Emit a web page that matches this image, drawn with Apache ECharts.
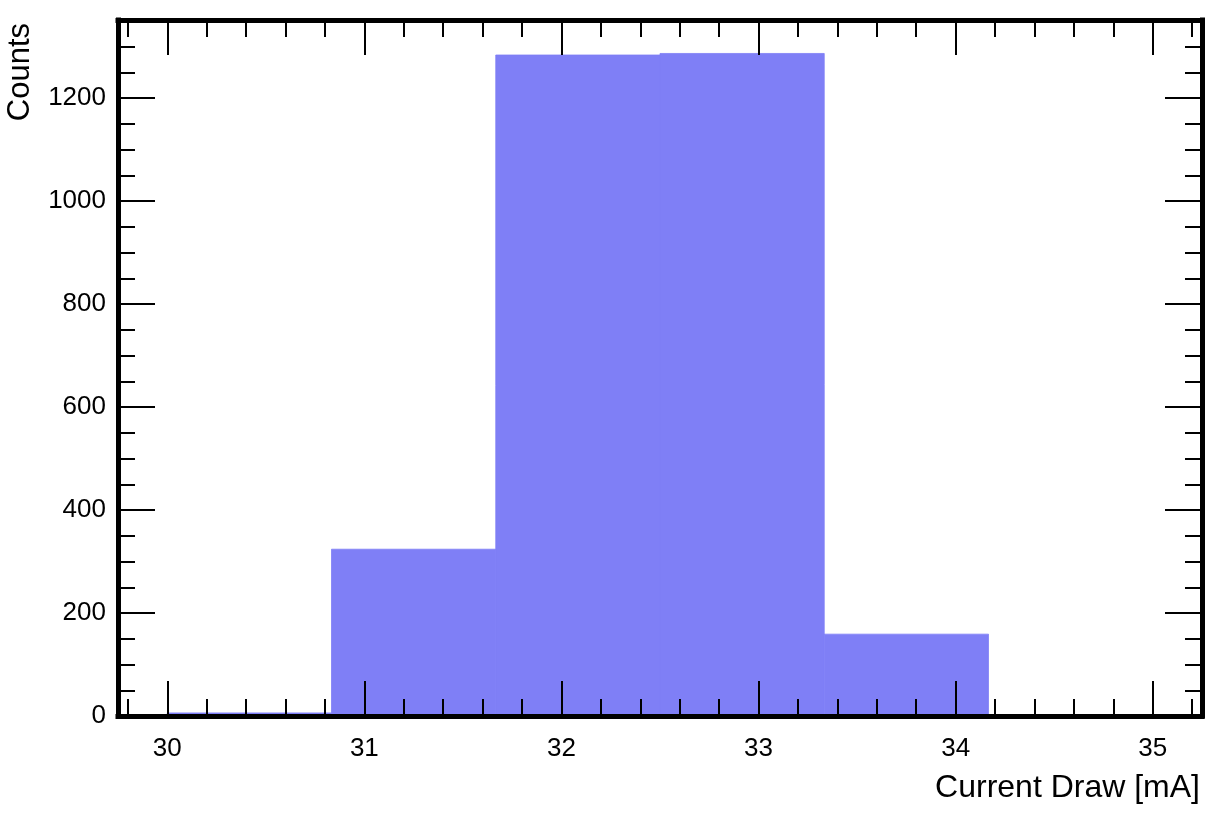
<!DOCTYPE html>
<html>
<head>
<meta charset="utf-8">
<script src="https://cdn.jsdelivr.net/npm/echarts@6/dist/echarts.min.js"></script>
<style>
html,body{margin:0;padding:0;background:#fff;}
#chart{width:1226px;height:814px;}
</style>
</head>
<body>
<div id="chart"></div>
<script>
// Histogram bins (Current Draw [mA]) and counts
const binEdges = [30.0, 30.8333, 31.6667, 32.5, 33.3333, 34.1667, 35.0];
const counts = [6, 324, 1284, 1287, 159, 0];

// Axis ticks / labels
const xMajorTicks = [30, 31, 32, 33, 34, 35];
const xMinorTicks = [29.8, 30.2, 30.4, 30.6, 30.8, 31.2, 31.4, 31.6, 31.8, 32.2, 32.4, 32.6, 32.8,
  33.2, 33.4, 33.6, 33.8, 34.2, 34.4, 34.6, 34.8, 35.2];
const yMajorTicks = [0, 200, 400, 600, 800, 1000, 1200];
const yMinorTicks = [50, 100, 150, 250, 300, 350, 450, 500, 550, 650, 700, 750, 850, 900, 950,
  1050, 1100, 1150, 1250, 1300];

const xRange = [29.75, 35.25];
const yRange = [0, 1352];

const FONT = "'Liberation Sans', Arial, Helvetica, sans-serif";
const barColor = '#7f7ff6';

const histData = counts.map((c, i) => [binEdges[i], binEdges[i + 1], c]);

function plain(v) { return String(v); }

function xAxisDef(position, ticks, len, withLine, withLabel) {
  return {
    type: 'value', position: position, min: xRange[0], max: xRange[1], z: 10,
    splitLine: { show: false },
    axisLine: { show: withLine, onZero: false, lineStyle: { color: '#000', width: 5, cap: 'square' } },
    axisTick: { show: true, inside: true, length: len, customValues: ticks, lineStyle: { color: '#000', width: 2 } },
    axisLabel: { show: withLabel, customValues: ticks, formatter: plain, color: '#000', fontSize: 26, fontFamily: FONT, margin: 20 }
  };
}
function yAxisDef(position, ticks, len, withLine, withLabel) {
  return {
    type: 'value', position: position, min: yRange[0], max: yRange[1], z: 10,
    splitLine: { show: false },
    axisLine: { show: withLine, onZero: false, lineStyle: { color: '#000', width: 5, cap: 'square' } },
    axisTick: { show: true, inside: true, length: len, customValues: ticks, lineStyle: { color: '#000', width: 2 } },
    axisLabel: { show: withLabel, customValues: ticks, formatter: plain, color: '#000', fontSize: 26, fontFamily: FONT, margin: 12 }
  };
}

const xMain = xAxisDef('bottom', xMajorTicks, 35, true, true);
xMain.name = 'Current Draw [mA]';
xMain.nameLocation = 'end';
xMain.nameGap = -2;
xMain.nameTextStyle = { color: '#000', fontSize: 32, fontFamily: FONT, align: 'right', verticalAlign: 'top', padding: [56, 0, 0, 0] };

const yMain = yAxisDef('left', yMajorTicks, 37, true, true);
yMain.name = 'Counts';
yMain.nameLocation = 'end';
yMain.nameRotate = 90;
yMain.nameGap = -3;
yMain.nameTextStyle = { color: '#000', fontSize: 31, fontFamily: FONT, align: 'right', verticalAlign: 'bottom', padding: [0, 0, 82, 0] };

const option = {
  animation: false,
  backgroundColor: '#fff',
  grid: { left: 118, right: 24, top: 20, bottom: 98, containLabel: false },
  xAxis: [
    xMain,
    xAxisDef('bottom', xMinorTicks, 17, false, false),
    xAxisDef('top', xMajorTicks, 35, true, false),
    xAxisDef('top', xMinorTicks, 17, false, false)
  ],
  yAxis: [
    yMain,
    yAxisDef('left', yMinorTicks, 17, false, false),
    yAxisDef('right', yMajorTicks, 37, true, false),
    yAxisDef('right', yMinorTicks, 17, false, false)
  ],
  series: [{
    type: 'custom',
    xAxisIndex: 0,
    yAxisIndex: 0,
    data: histData,
    encode: { x: [0, 1], y: 2 },
    z: 2,
    renderItem: function (params, api) {
      const p0 = api.coord([api.value(0), 0]);
      const p1 = api.coord([api.value(1), api.value(2)]);
      return {
        type: 'rect',
        shape: { x: p0[0], y: p1[1], width: p1[0] - p0[0], height: p0[1] - p1[1] },
        style: { fill: barColor, stroke: barColor, lineWidth: 0.8 }
      };
    }
  }]
};

const chart = echarts.init(document.getElementById('chart'), null, { renderer: 'canvas' });
chart.setOption(option);
</script>
</body>
</html>
